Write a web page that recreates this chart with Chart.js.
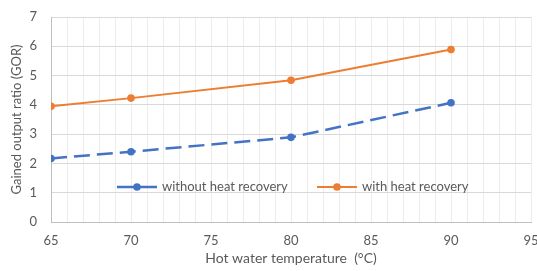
<!DOCTYPE html>
<html>
<head>
<meta charset="utf-8">
<script src="https://cdn.jsdelivr.net/npm/chart.js@4"></script>
<style>
  html, body { margin: 0; padding: 0; background: #fff; }
  #wrap { width: 537px; height: 271px; }
</style>
</head>
<body>
<div id="wrap"><canvas id="grafica"></canvas></div>
<script>
// Datos
const temperaturas = [65, 70, 80, 90]
const sinRecuperacion = [2.17, 2.40, 2.89, 4.07]
const conRecuperacion = [3.95, 4.23, 4.84, 5.89]
const nombres = ['without heat recovery', 'with heat recovery']
const colores = ['#4472C4', '#ED7D31']

const FUENTE = 'Lato, "Open Sans", sans-serif'
const GRIS = '#595959'

// ─── Leyenda dentro del área del gráfico ───────────────────────
const leyendaInterna = {
    id: 'leyendaInterna',
    afterDatasetsDraw(chart) {
        const { ctx, chartArea } = chart
        const y = 187
        const items = [
            { x0: chartArea.left + 66, ds: chart.data.datasets[0] },
            { x0: chartArea.left + 266, ds: chart.data.datasets[1] }
        ]
        ctx.save()
        items.forEach(it => {
            ctx.strokeStyle = it.ds.borderColor
            ctx.lineWidth = it.ds.borderWidth
            ctx.setLineDash([])
            ctx.beginPath()
            ctx.moveTo(it.x0, y)
            ctx.lineTo(it.x0 + 40, y)
            ctx.stroke()
            ctx.fillStyle = it.ds.borderColor
            ctx.beginPath()
            ctx.arc(it.x0 + 20, y, 3.8, 0, Math.PI * 2)
            ctx.fill()
            ctx.fillStyle = GRIS
            ctx.font = '13px ' + FUENTE
            ctx.textBaseline = 'middle'
            ctx.textAlign = 'left'
            ctx.fillText(it.ds.label, it.x0 + 45, y)
        })
        ctx.restore()
    }
}

new Chart(document.getElementById('grafica'), {
    type: 'line',
    data: {
        datasets: [
            {
                label: nombres[0],
                data: temperaturas.map((t, i) => ({ x: t, y: sinRecuperacion[i] })),
                borderColor: colores[0],
                backgroundColor: colores[0],
                borderWidth: 2.5,
                borderDash: [16, 7],
                pointRadius: 3.8,
                pointHoverRadius: 3.8,
                pointBorderWidth: 0,
                tension: 0
            },
            {
                label: nombres[1],
                data: temperaturas.map((t, i) => ({ x: t, y: conRecuperacion[i] })),
                borderColor: colores[1],
                backgroundColor: colores[1],
                borderWidth: 2,
                pointRadius: 3.8,
                pointHoverRadius: 3.8,
                pointBorderWidth: 0,
                tension: 0
            }
        ]
    },
    options: {
        responsive: true,
        maintainAspectRatio: false,
        animation: false,
        layout: { padding: { top: 17, right: 6, left: 0, bottom: 0 } },
        plugins: { legend: { display: false }, tooltip: { enabled: false } },
        scales: {
            x: {
                type: 'linear',
                min: 65,
                max: 95,
                afterFit: s => { s.height = 49; s.paddingLeft = 0; s.paddingRight = 0 },
                ticks: {
                    stepSize: 1,
                    maxTicksLimit: 40,
                    autoSkip: false,
                    maxRotation: 0,
                    padding: 11,
                    color: GRIS,
                    font: { family: FUENTE, size: 13 },
                    callback: v => (v % 5 === 0 ? v : '')
                },
                grid: { color: '#ECECEC', drawTicks: false },
                border: { color: '#BFBFBF' },
                title: {
                    display: true,
                    text: 'Hot water temperature  (°C)',
                    color: GRIS,
                    font: { family: FUENTE, size: 14 },
                    padding: { top: 0, bottom: 4 }
                }
            },
            y: {
                min: 0,
                max: 7,
                afterFit: s => { s.width = 51; s.paddingTop = 0; s.paddingBottom = 0 },
                ticks: {
                    stepSize: 1,
                    padding: 14,
                    color: GRIS,
                    font: { family: FUENTE, size: 13 }
                },
                grid: { color: '#D9D9D9', drawTicks: false },
                border: { color: '#BFBFBF' },
                title: {
                    display: true,
                    text: 'Gained output ratio (GOR)',
                    color: GRIS,
                    font: { family: FUENTE, size: 13 },
                    padding: { top: 9, bottom: 0 }
                }
            }
        }
    },
    plugins: [leyendaInterna]
})
</script>
</body>
</html>
